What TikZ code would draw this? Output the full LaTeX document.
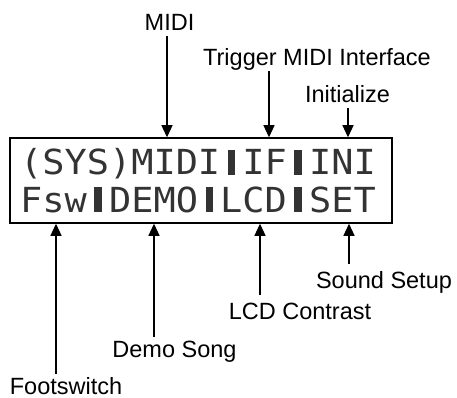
\documentclass[tikz,border=0pt]{standalone}
\usepackage{fontspec}
\setmainfont{Liberation Sans}
\newfontfamily\lcdfont[FakeStretch=1.07]{DejaVu Sans Mono}
\usetikzlibrary{arrows.meta}
\newlength\lcdw
\newlength\lcdh
\newcommand\lcdbar{\settowidth\lcdw{I}\settoheight\lcdh{I}\makebox[\lcdw]{\rule{0.32\lcdw}{\lcdh}}}

\begin{document}
\begin{tikzpicture}[x=1pt, y=-1pt,
  every node/.style={font=\fontsize{23.5}{26}\selectfont, inner sep=0pt, text depth=0pt, anchor=base},
  lcdrow/.style={font=\lcdfont\fontsize{34.5}{36}\selectfont, text=black!80, anchor=base west},
  pointer/.style={-{Triangle[width=11pt,length=12pt]}, line width=1.2pt}]
\useasboundingbox (0,0) rectangle (457,398);
% display window
\node[draw, line width=1.5pt, minimum width=382pt, minimum height=85pt, anchor=center] (lcd) at (201,180.5) {};
\node[lcdrow] (row1) at (20,175) {(SYS)MIDI\lcdbar IF\lcdbar INI};
\node[lcdrow] (row2) at (20,212) {Fsw\lcdbar DEMO\lcdbar LCD\lcdbar SET};
% labels above
\node (midi) at (169.5,31)  {MIDI};
\node (trig) at (317,66)    {Trigger MIDI Interface};
\node (init) at (347.5,103) {Initialize};
% labels below
\node (sound)    at (384,288)   {Sound Setup};
\node (contrast) at (300,319)   {LCD Contrast};
\node (demo)     at (174.5,357) {Demo Song};
\node (fsw)      at (66,394)    {Footswitch};
% arrow tips on the frame
\coordinate (aMidi) at (167,0 |- lcd.north);
\coordinate (aTrig) at (269,0 |- lcd.north);
\coordinate (aInit) at (348,0 |- lcd.north);
\coordinate (aFsw)  at (56,0 |- lcd.south);
\coordinate (aDemo) at (154,0 |- lcd.south);
\coordinate (aLcd)  at (260,0 |- lcd.south);
\coordinate (aSet)  at (349,0 |- lcd.south);
\draw[pointer, shorten <=5pt] (midi.south -| aMidi) -- (aMidi);
\draw[pointer, shorten <=5pt] (trig.south -| aTrig) -- (aTrig);
\draw[pointer, shorten <=5pt] (init.south -| aInit) -- (aInit);
\draw[pointer, shorten <=3pt] (fsw.north -| aFsw) -- (aFsw);
\draw[pointer, shorten <=3pt] (demo.north -| aDemo) -- (aDemo);
\draw[pointer, shorten <=7pt] (contrast.north -| aLcd) -- (aLcd);
\draw[pointer, shorten <=7pt] (sound.north -| aSet) -- (aSet);
\end{tikzpicture}
\end{document}
